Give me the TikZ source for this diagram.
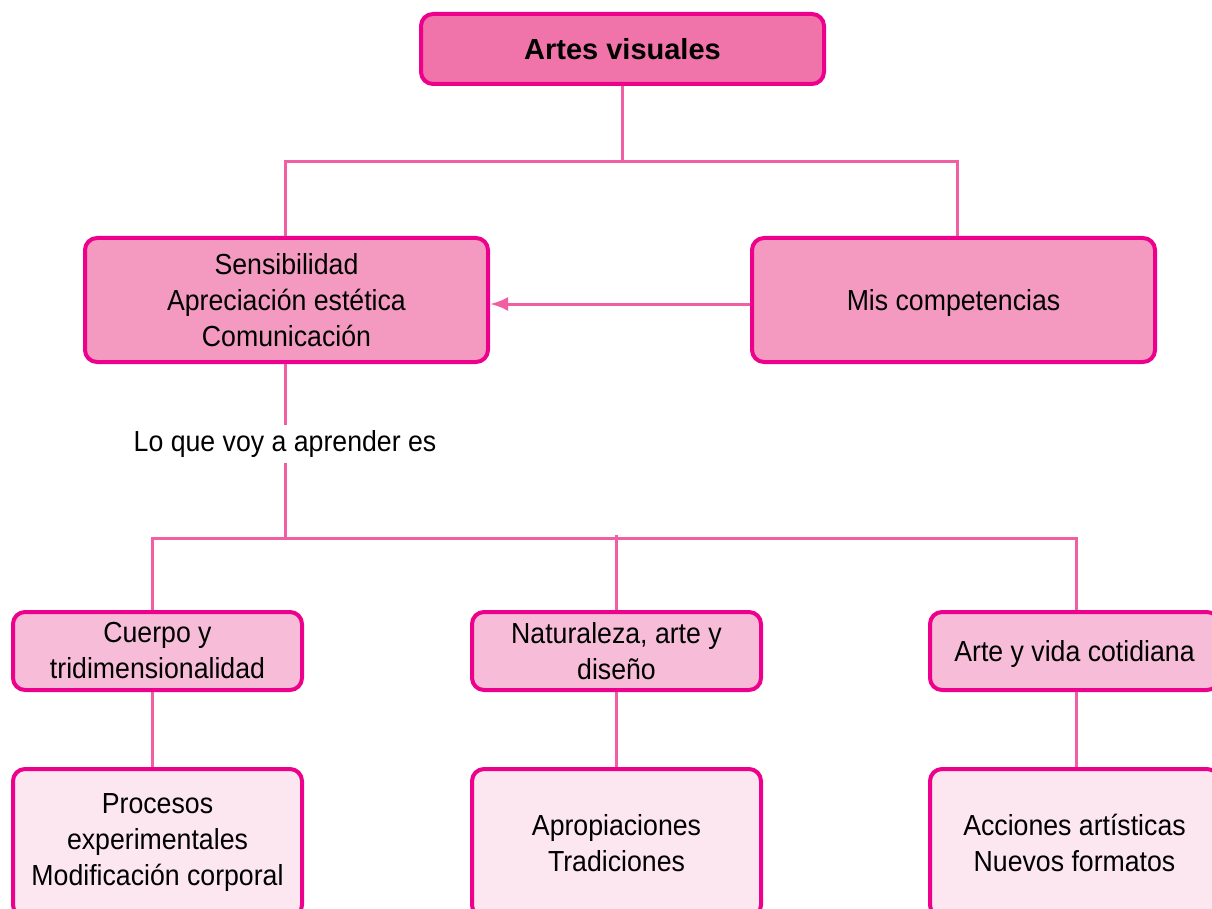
\documentclass[tikz,border=0pt]{standalone}
\usepackage{fontspec}
\setmainfont[FakeStretch=0.92]{Liberation Sans}
\newfontfamily\titlefont{Liberation Sans}
\usetikzlibrary{arrows.meta}
\definecolor{bordermag}{RGB}{236,0,140}
\definecolor{linepink}{RGB}{240,95,162}
\definecolor{filltop}{RGB}{240,116,169}
\definecolor{filltwo}{RGB}{244,154,193}
\definecolor{fillthree}{RGB}{247,189,216}
\definecolor{fillfour}{RGB}{252,230,240}
\tikzset{
  box/.style={draw=bordermag, line width=4pt, rounded corners=12pt, align=center,
    font=\fontsize{29}{36}\selectfont, text=black, inner sep=0pt},
  conn/.style={draw=linepink, line width=3pt},
  lbl/.style={font=\fontsize{29}{36}\selectfont, inner xsep=2pt, inner ysep=5pt}
}
\begin{document}
\begin{tikzpicture}[x=1pt,y=-1pt]
\path[use as bounding box] (0,0) rectangle (1212,909);
\clip (0,0) rectangle (1212,909);
% nodes
\node[box, fill=filltop, minimum width=403pt, minimum height=70pt,
      font=\titlefont\bfseries\fontsize{29}{36}\selectfont] (top) at (622.5,49) {Artes visuales};
\node[box, fill=filltwo, minimum width=403pt, minimum height=124pt] (sens) at (286.5,300)
  {Sensibilidad\\Apreciación estética\\Comunicación};
\node[box, fill=filltwo, minimum width=403pt, minimum height=124pt, text depth=0pt] (mis) at (953.5,300)
  {Mis competencias};
\node[lbl] (aprender) at (285,444) {Lo que voy a aprender es};
\node[box, fill=fillthree, minimum width=289pt, minimum height=78pt] (cuerpo) at (157.5,651)
  {Cuerpo y\\tridimensionalidad};
\node[box, fill=fillthree, minimum width=289pt, minimum height=78pt] (nat) at (616.5,651)
  {Naturaleza, arte y\\diseño};
\node[box, fill=fillthree, minimum width=289pt, minimum height=78pt, text depth=0pt] (arte) at (1074.5,651)
  {Arte y vida cotidiana};
\node[box, fill=fillfour, minimum width=289pt, minimum height=148pt] (proc) at (157.5,843)
  {Procesos\\experimentales\\Modificación corporal};
\node[box, fill=fillfour, minimum width=289pt, minimum height=148pt] (apro) at (616.5,843)
  {Apropiaciones\\Tradiciones};
\node[box, fill=fillfour, minimum width=289pt, minimum height=148pt] (acc) at (1074.5,843)
  {Acciones artísticas\\Nuevos formatos};
% junctions
\coordinate (j1) at (622.5,162);
\coordinate (j2) at (285,538);
\coordinate (j3) at (616.5,535);
% connectors
\draw[conn] (top.south) -- (j1);
\draw[conn] ([xshift=-1.5pt]sens.north) |- (j1) -| ([xshift=3.5pt]mis.north);
\draw[conn, -{Latex[length=18pt,width=14pt]}] ([yshift=-4pt]mis.west) -- ([yshift=-4pt]sens.east);
\draw[conn] (aprender.north |- sens.south) -- (aprender.north);
\draw[conn] (aprender.south) -- (j2);
\draw[conn] ([xshift=-5pt]cuerpo.north) |- (j2) -| ([xshift=1.5pt]arte.north);
\draw[conn] (j3) -- (nat.north);
\draw[conn] ([xshift=-5pt]cuerpo.south) -- ([xshift=-5pt]proc.north);
\draw[conn] (nat.south) -- (apro.north);
\draw[conn] ([xshift=1.5pt]arte.south) -- ([xshift=1.5pt]acc.north);
\end{tikzpicture}
\end{document}
